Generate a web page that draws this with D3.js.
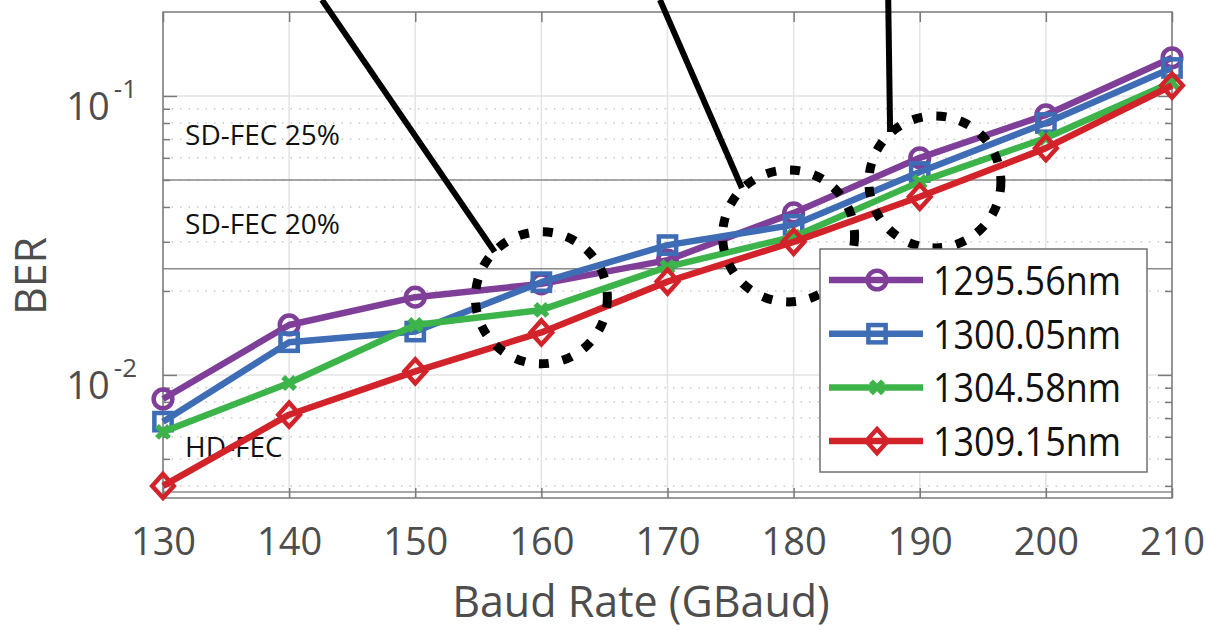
<!DOCTYPE html>
<html>
<head>
<meta charset="utf-8">
<script src="https://cdn.jsdelivr.net/npm/d3@7"></script>
<style>
  body { margin: 0; background: #fff; }
  svg { display: block; font-family: "Open Sans", "Noto Sans", sans-serif; }
</style>
</head>
<body>
<div id="chart"></div>
<script>
// data
var baud = [130, 140, 150, 160, 170, 180, 190, 200, 210];
var ber1295 = [0.0082, 0.0151, 0.0190, 0.0212, 0.0258, 0.0381, 0.0600, 0.0855, 0.137];
var ber1300 = [0.0068, 0.0131, 0.0143, 0.0215, 0.0292, 0.0345, 0.0534, 0.0800, 0.126];
var ber1304 = [0.00625, 0.00935, 0.0151, 0.0171, 0.0244, 0.0313, 0.0492, 0.0707, 0.112];
var ber1309 = [0.0040, 0.0072, 0.0103, 0.0142, 0.0216, 0.0300, 0.0435, 0.0650, 0.109];
var seriesNames = ["1295.56nm", "1300.05nm", "1304.58nm", "1309.15nm"];

var fecLimits = [0.05, 0.024, 0.0038];
var fecLabels = ["SD-FEC 25%", "SD-FEC 20%", "HD-FEC"];

// dotted rings (data units) and pointer lines
var ringX = [160, 179.6, 191.2];
var ringY = [0.0189, 0.0315, 0.0492];
var pointerFrom = [[142.6, 0.221], [169.4, 0.221], [187.5, 0.221]];
var pointerTo = [[156.3, 0.0276], [175.9, 0.0468], [187.65, 0.0743]];

// 0. size
var W = 1206, H = 630;
var margin = {top: 12, right: 34, bottom: 132, left: 163};
var w = W - margin.left - margin.right;
var h = H - margin.top - margin.bottom;

var colors = ["#7f3f98", "#3e6db5", "#3cb44a", "#d2232a"];
var symbols = ["circle", "square", "cross", "diamond"];
var series = [ber1295, ber1300, ber1304, ber1309];

var svgBG = d3.select("#chart").append("svg").attr("width", W).attr("height", H);
var svg = svgBG.append("g").attr("transform", "translate(" + margin.left + "," + margin.top + ")");

var x = d3.scaleLinear().domain([130, 210]).range([0, w]);
var y = d3.scaleLog().domain([0.00362, 0.2]).range([h, 0]);

// grid
var minors = [];
[0.001, 0.01, 0.1].forEach(function (dec) {
    for (var k = 2; k <= 9; k++) {
        var v = dec * k;
        if (v > y.domain()[0] && v < y.domain()[1]) minors.push(v);
    }
});
svg.append("g").selectAll("line").data(minors).enter().append("line")
    .attr("x1", 0).attr("x2", w)
    .attr("y1", y).attr("y2", y)
    .attr("stroke", "#c8c8c8").attr("stroke-width", 1.5)
    .attr("stroke-dasharray", "1.5,7");
svg.append("g").selectAll("line").data(baud).enter().append("line")
    .attr("x1", x).attr("x2", x)
    .attr("y1", 0).attr("y2", h)
    .attr("stroke", "#e3e3e3").attr("stroke-width", 1.5);
svg.append("g").selectAll("line").data([0.01, 0.1]).enter().append("line")
    .attr("x1", 0).attr("x2", w)
    .attr("y1", y).attr("y2", y)
    .attr("stroke", "#e3e3e3").attr("stroke-width", 1.5);

// FEC limits
svg.append("g").selectAll("line").data(fecLimits).enter().append("line")
    .attr("x1", 0).attr("x2", w)
    .attr("y1", y).attr("y2", y)
    .attr("stroke", "#8a8a8a").attr("stroke-width", 1.5);
svg.append("g").selectAll("text").data(fecLimits).enter().append("text")
    .attr("x", x(131.75))
    .attr("y", function (d) { return y(d) - 35; })
    .attr("font-size", 28).attr("fill", "#111")
    .text(function (d, i) { return fecLabels[i]; });

// axes
var axisColor = "#7a7a7a";
function styleAxis(g) {
    g.select(".domain").remove();
    g.selectAll(".tick line").attr("stroke", axisColor).attr("stroke-width", 1.5);
}
svg.append("g").attr("transform", "translate(0," + h + ")")
    .call(d3.axisBottom(x).tickValues(baud).tickSize(-10).tickPadding(30).tickFormat(d3.format("d")))
    .call(styleAxis)
    .selectAll("text").attr("font-size", 38).attr("fill", "#4d4d4d")
    .attr("font-family", "Open Sans, sans-serif");
svg.append("g")
    .call(d3.axisTop(x).tickValues(baud).tickSize(-10).tickFormat(""))
    .call(styleAxis);

var yTicks = [0.01, 0.1];
svg.append("g")
    .call(d3.axisLeft(y).tickValues(yTicks).tickSize(-14).tickFormat(""))
    .call(styleAxis);
svg.append("g").attr("transform", "translate(" + w + ",0)")
    .call(d3.axisRight(y).tickValues(yTicks).tickSize(-14).tickFormat(""))
    .call(styleAxis);
svg.append("g")
    .call(d3.axisLeft(y).tickValues(minors).tickSize(-7).tickFormat(""))
    .call(styleAxis);
svg.append("g").attr("transform", "translate(" + w + ",0)")
    .call(d3.axisRight(y).tickValues(minors).tickSize(-7).tickFormat(""))
    .call(styleAxis);

// y tick labels 10^n
var yLab = svg.append("g").selectAll("text").data(yTicks).enter().append("text")
    .attr("x", -26)
    .attr("y", function (d) { return y(d) + 24; })
    .attr("text-anchor", "end")
    .attr("fill", "#4d4d4d").attr("font-size", 38);
yLab.append("tspan").text("10");
yLab.append("tspan").attr("dx", 4).attr("dy", -22).attr("font-size", 26)
    .text(function (d) { return "-" + Math.round(-Math.log10(d)); });

// frame
svg.append("rect").attr("width", w).attr("height", h)
    .attr("fill", "none").attr("stroke", axisColor).attr("stroke-width", 1.5);

// axis titles
svgBG.append("text")
    .attr("x", 641).attr("y", 617)
    .attr("text-anchor", "middle").attr("font-size", 43).attr("fill", "#4d4d4d")
    .text("Baud Rate (GBaud)");
svgBG.append("text")
    .attr("transform", "translate(46,276) rotate(-90)")
    .attr("text-anchor", "middle").attr("font-size", 43).attr("fill", "#4d4d4d")
    .text("BER");

// markers
function drawMarker(g, type, color, size) {
    if (type == "circle") {
        g.append("circle").attr("r", size * 0.78).attr("fill", "none")
            .attr("stroke", color).attr("stroke-width", 4.5);
    } else if (type == "square") {
        g.append("rect").attr("x", -size * 0.72).attr("y", -size * 0.72)
            .attr("width", size * 1.44).attr("height", size * 1.44)
            .attr("fill", "none").attr("stroke", color).attr("stroke-width", 4.5);
    } else if (type == "diamond") {
        var s = size;
        g.append("path").attr("d", "M0," + (-s) + "L" + s * 0.9 + ",0L0," + s + "L" + (-s * 0.9) + ",0Z")
            .attr("fill", "none").attr("stroke", color).attr("stroke-width", 4.5);
    } else {
        var c = size * 0.5;
        g.append("path").attr("d", "M" + (-c) + "," + (-c) + "L" + c + "," + c + "M" + (-c) + "," + c + "L" + c + "," + (-c))
            .attr("stroke", color).attr("stroke-width", 5.5);
    }
}

var line = d3.line().x(function (d) { return x(d[0]); }).y(function (d) { return y(d[1]); });
series.forEach(function (vals, i) {
    var pts = baud.map(function (b, j) { return [b, vals[j]]; });
    svg.append("path").datum(pts).attr("d", line)
        .attr("fill", "none").attr("stroke", colors[i]).attr("stroke-width", 6.5)
        .attr("stroke-linejoin", "round");
    svg.append("g").selectAll("g").data(pts).enter().append("g")
        .attr("transform", function (d) { return "translate(" + x(d[0]) + "," + y(d[1]) + ")"; })
        .each(function () { drawMarker(d3.select(this), symbols[i], colors[i], 12); });
});

// legend
var leg = svgBG.append("g").attr("transform", "translate(820,249)");
leg.append("rect").attr("width", 327).attr("height", 223)
    .attr("fill", "#fff").attr("stroke", "#707070").attr("stroke-width", 1.5);
seriesNames.forEach(function (name, i) {
    var ly = 31 + i * 53.7;
    var row = leg.append("g").attr("transform", "translate(0," + ly + ")");
    row.append("line").attr("x1", 9).attr("x2", 103)
        .attr("stroke", colors[i]).attr("stroke-width", 6.5);
    var m = row.append("g").attr("transform", "translate(57,0)");
    drawMarker(m, symbols[i], colors[i], 12);
    row.append("text").attr("x", 113).attr("y", 15)
        .attr("font-size", 41).attr("fill", "#111")
        .attr("textLength", 188).attr("lengthAdjust", "spacingAndGlyphs")
        .text(name);
});

// annotation: dotted rings + pointers
var ann = svg.append("g");
ann.selectAll("circle").data(ringX).enter().append("circle")
    .attr("cx", function (d) { return x(d); })
    .attr("cy", function (d, i) { return y(ringY[i]); })
    .attr("r", 66)
    .attr("fill", "none").attr("stroke", "#000").attr("stroke-width", 9)
    .attr("stroke-dasharray", "10,14");
ann.selectAll("line").data(pointerFrom).enter().append("line")
    .attr("x1", function (d) { return x(d[0]); })
    .attr("y1", function (d) { return y(d[1]); })
    .attr("x2", function (d, i) { return x(pointerTo[i][0]); })
    .attr("y2", function (d, i) { return y(pointerTo[i][1]); })
    .attr("stroke", "#000").attr("stroke-width", 6);
</script>
</body>
</html>
